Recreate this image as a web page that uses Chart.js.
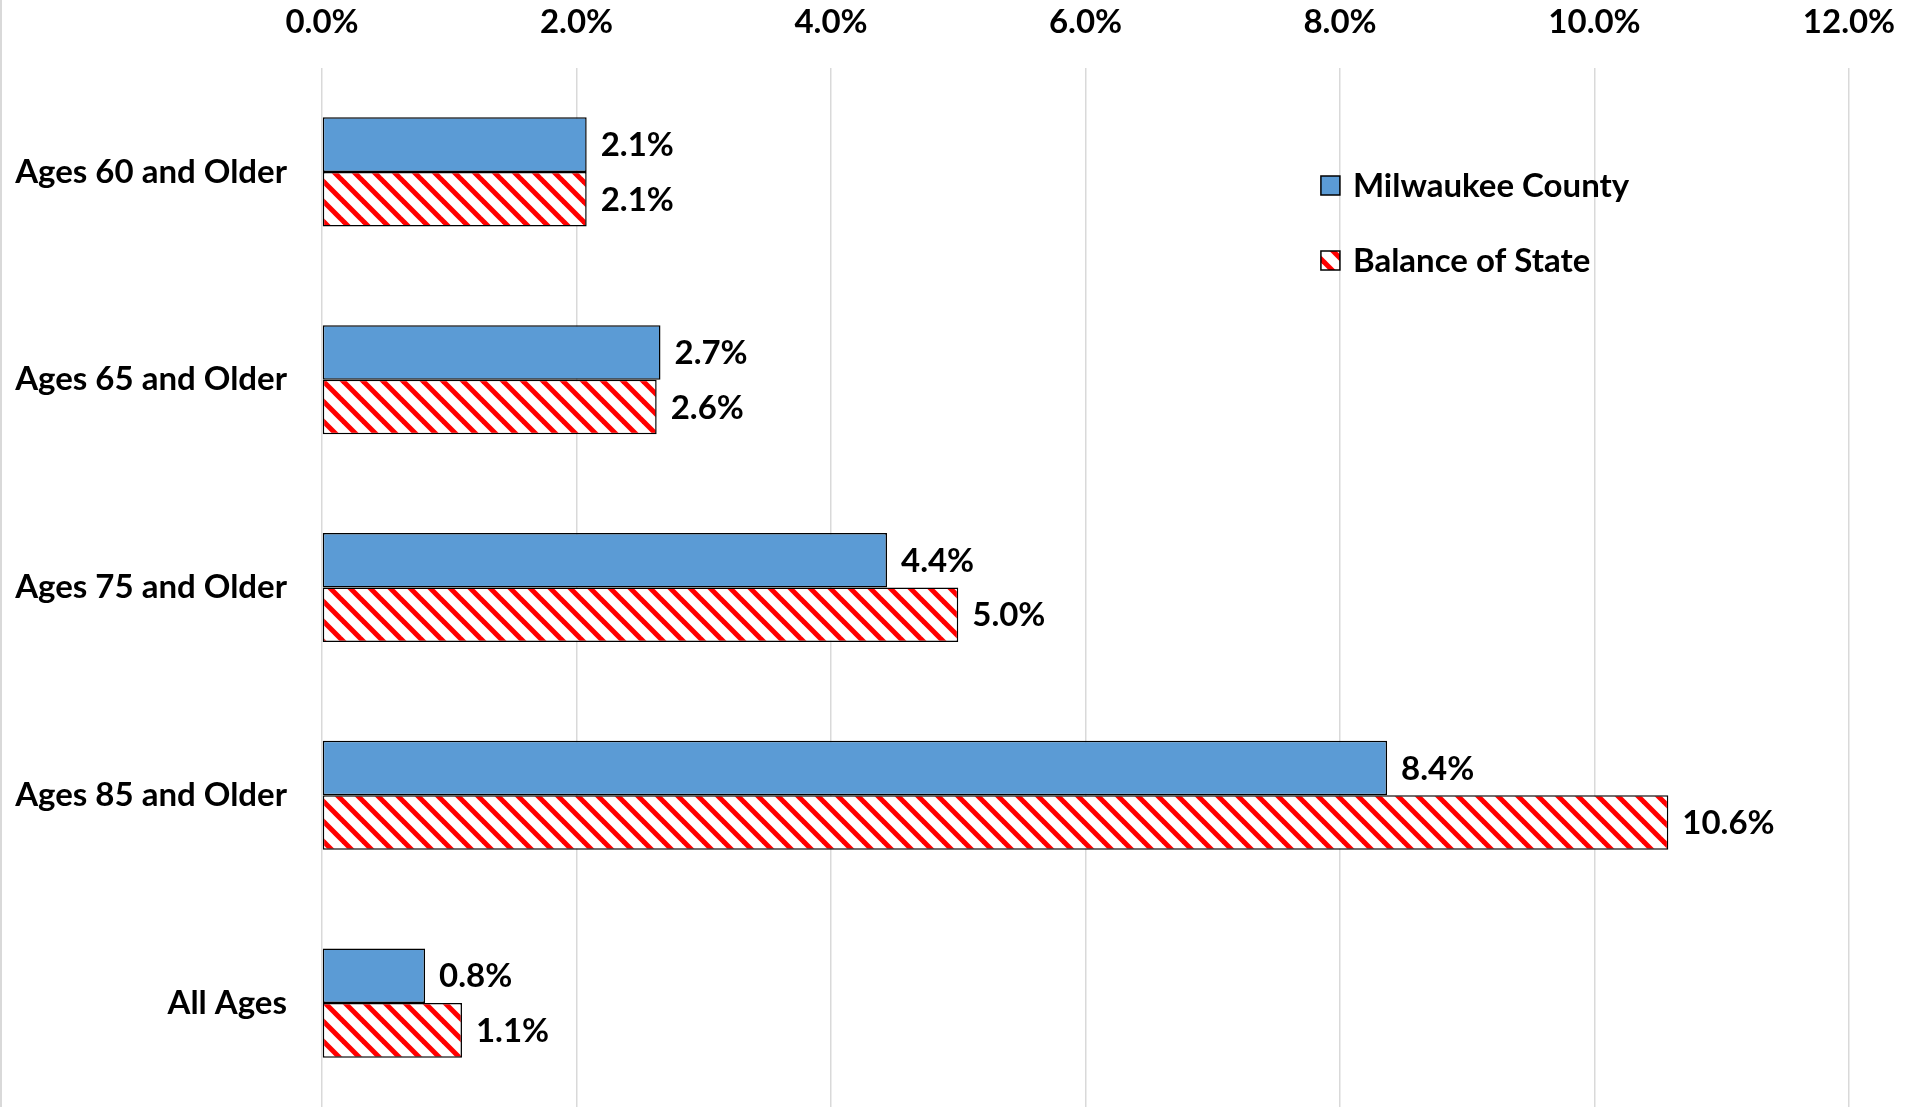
<!DOCTYPE html>
<html>
<head>
<meta charset="utf-8">
<script src="https://cdn.jsdelivr.net/npm/chart.js@4"></script>
<style>
html,body{margin:0;padding:0;background:#fff;}
#wrap{position:relative;width:1905px;height:1107px;border-left:2px solid #d9d9d9;box-sizing:border-box;}
</style>
</head>
<body>
<div id="wrap"><canvas id="c"></canvas></div>
<script>
const categories = ['Ages 60 and Older', 'Ages 65 and Older', 'Ages 75 and Older', 'Ages 85 and Older', 'All Ages'];
const milwaukeeCounty = [2.08, 2.66, 4.44, 8.37, 0.81];
const balanceOfState = [2.08, 2.63, 5.00, 10.58, 1.10];
const seriesNames = ['Milwaukee County', 'Balance of State'];
const xTicks = [0, 2, 4, 6, 8, 10, 12];

const FONT = 'Lato, "Open Sans", sans-serif';
const FSIZE = 33;

function makeHatch() {
  const p = 20;
  const c = document.createElement('canvas');
  c.width = p; c.height = p;
  const g = c.getContext('2d');
  g.fillStyle = '#fff';
  g.fillRect(0, 0, p, p);
  g.strokeStyle = '#ff0000';
  g.lineWidth = 5;
  for (const off of [-p, 0, p]) {
    g.beginPath();
    g.moveTo(-2, -2 + off);
    g.lineTo(p + 2, p + 2 + off);
    g.stroke();
  }
  return g.createPattern(c, 'repeat');
}
const hatch = makeHatch();

const valueLabels = {
  id: 'valueLabels',
  afterDatasetsDraw(chart) {
    const ctx = chart.ctx;
    ctx.save();
    ctx.font = 'bold ' + FSIZE + 'px ' + FONT;
    ctx.fillStyle = '#000';
    ctx.textBaseline = 'middle';
    ctx.textAlign = 'left';
    chart.data.datasets.forEach((ds, i) => {
      const meta = chart.getDatasetMeta(i);
      meta.data.forEach((bar, j) => {
        ctx.fillText(ds.data[j].toFixed(1) + '%', bar.x + 14, bar.y + 1);
      });
    });
    ctx.restore();
  }
};

const customLegend = {
  id: 'customLegend',
  afterDraw(chart) {
    const ctx = chart.ctx;
    const xs = chart.scales.x;
    const x0 = xs.getPixelForValue(7.85);
    const ys = [185, 260];
    ctx.save();
    ctx.font = 'bold ' + FSIZE + 'px ' + FONT;
    ctx.textBaseline = 'middle';
    ctx.textAlign = 'left';
    chart.data.datasets.forEach((ds, i) => {
      const y = ys[i];
      ctx.fillStyle = ds.backgroundColor;
      ctx.fillRect(x0, y - 9, 19, 19);
      ctx.strokeStyle = '#000';
      ctx.lineWidth = 1.5;
      ctx.strokeRect(x0, y - 9, 19, 19);
      ctx.fillStyle = '#000';
      ctx.fillText(ds.label, x0 + 32, y + 1);
    });
    ctx.restore();
  }
};

new Chart(document.getElementById('c'), {
  type: 'bar',
  data: {
    labels: categories,
    datasets: [
      { label: seriesNames[0], data: milwaukeeCounty, backgroundColor: '#5B9BD5', borderColor: '#000', borderWidth: 1.5, borderSkipped: false },
      { label: seriesNames[1], data: balanceOfState, backgroundColor: hatch, borderColor: '#000', borderWidth: 1.5, borderSkipped: false }
    ]
  },
  options: {
    indexAxis: 'y',
    responsive: true,
    maintainAspectRatio: false,
    animation: false,
    layout: { padding: { left: 0, right: 0, top: 0, bottom: -3 } },
    datasets: { bar: { barPercentage: 1, categoryPercentage: 0.525 } },
    plugins: { legend: { display: false }, tooltip: { enabled: false } },
    scales: {
      x: {
        position: 'top',
        min: 0, max: 12,
        afterBuildTicks(scale) { scale.ticks = xTicks.map(v => ({ value: v })); },
        afterFit(scale) { scale.height = 68; scale.paddingLeft = 0; scale.paddingRight = 56; },
        grid: { color: '#d9d9d9', lineWidth: 1.5, drawTicks: false },
        border: { display: false },
        ticks: {
          padding: 26,
          color: '#000',
          font: { family: FONT, size: FSIZE, weight: 'bold' },
          callback: v => v.toFixed(1) + '%'
        }
      },
      y: {
        afterFit(scale) { scale.width = 320; scale.paddingTop = 0; scale.paddingBottom = 0; },
        grid: { display: false, drawTicks: false },
        border: { display: false },
        ticks: {
          padding: 35,
          color: '#000',
          font: { family: FONT, size: FSIZE, weight: 'bold' }
        }
      }
    }
  },
  plugins: [valueLabels, customLegend]
});
</script>
</body>
</html>
